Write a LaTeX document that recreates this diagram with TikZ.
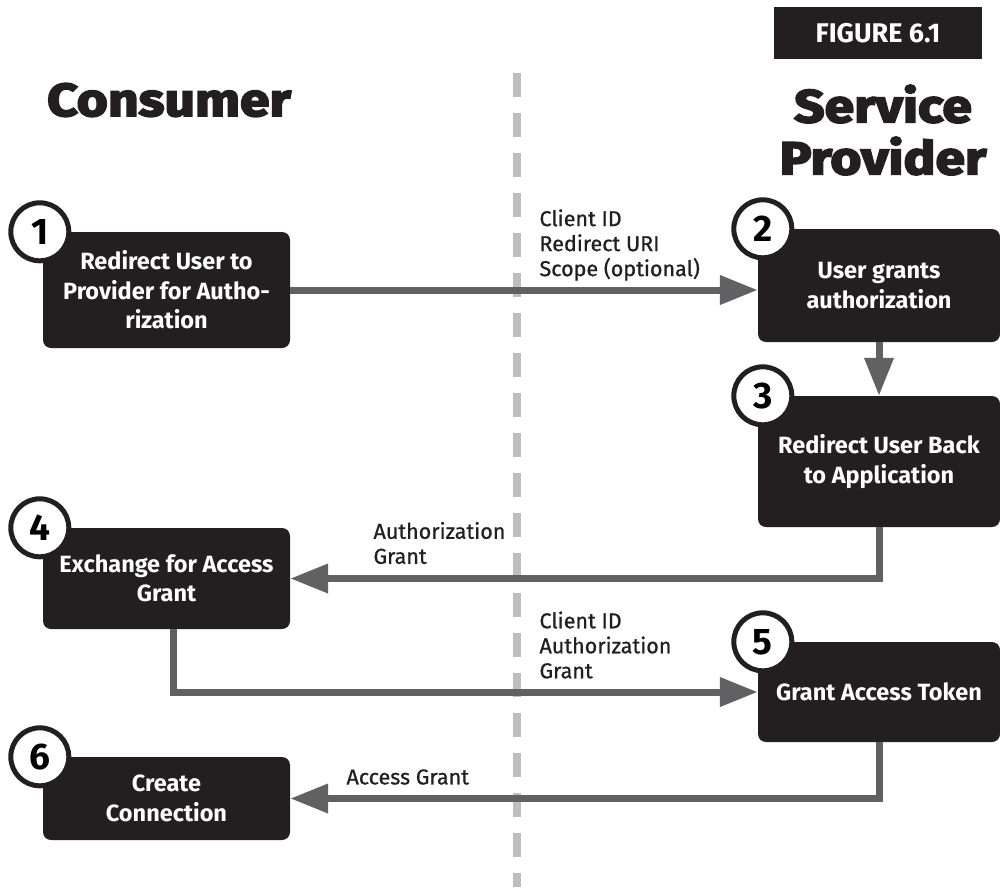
\documentclass[tikz,border=0pt]{standalone}
\usepackage{fontspec}
\setmainfont{Fira Sans}
\newfontfamily\headfont[BoldFeatures={FakeBold=4,FakeStretch=1.16}]{Fira Sans}
\newfontfamily\msgfont[FakeBold=0.8]{Fira Sans}
\usetikzlibrary{arrows.meta, positioning}
\definecolor{boxblack}{HTML}{231F20}
\definecolor{flowgray}{HTML}{616163}
\definecolor{linegray}{HTML}{BEBEBE}

\begin{document}
\begin{tikzpicture}[
    x=1pt, y=-1pt,
    arrow/.style = {draw=flowgray, line width=7pt, ->, >={Triangle[length=38pt,width=28pt]}},
    stage/.style = {rectangle, rounded corners=8pt, fill=boxblack, text=white, align=center, inner sep=0pt,
                    font=\fontsize{23.5}{29.5}\selectfont\bfseries},
    stagenum/.style = {circle, draw=boxblack, line width=5pt, fill=white, minimum size=58pt, inner sep=0pt,
                       font=\fontsize{37}{37}\selectfont\bfseries},
    msg/.style = {anchor=west, align=left, text=boxblack, font=\msgfont\fontsize{21.5}{25}\selectfont},
    side/.style = {text=boxblack, align=center, font=\headfont\bfseries\fontsize{46}{52}\selectfont}
  ]
  \useasboundingbox (0,0) rectangle (1000,887);

  % headings
  \node (figlabel) [fill=boxblack, text=white, minimum width=208pt, minimum height=52pt,
                    font=\fontsize{27}{27}\selectfont\bfseries] at (878, 33) {FIGURE 6.1};
  \node (consumer) [side] at (169, 100) {Consumer};
  \node (provider) [side] at (883, 130) {Service\\Provider};

  % divider
  \draw[linegray, line width=8pt, dash pattern=on 24pt off 16pt] (517, 73) -- (517, 887);

  % steps
  \node (b1) [stage, minimum width=247pt, minimum height=116pt] at (166.5, 290) {Redirect User to\\Provider for Autho-\\rization};
  \node (b2) [stage, minimum width=242pt, minimum height=113pt] at (879, 285.5) {User grants\\authorization};
  \node (b3) [stage, minimum width=242pt, minimum height=131pt] at (879, 461.5) {Redirect User Back\\to Application};
  \node (b4) [stage, minimum width=247pt, minimum height=101pt] at (166.5, 578.5) {Exchange for Access\\Grant};
  \node (b5) [stage, minimum width=242pt, minimum height=100pt] at (879, 692) {Grant Access Token};
  \node (b6) [stage, minimum width=247pt, minimum height=83pt] at (166.5, 798.5) {Create\\Connection};

  \node (n1) [stagenum] at ([xshift=-3pt]b1.north west) {1};
  \node (n2) [stagenum] at ([xshift=5pt]b2.north west) {2};
  \node (n3) [stagenum] at ([xshift=5pt]b3.north west) {3};
  \node (n4) [stagenum] at ([xshift=-3pt]b4.north west) {4};
  \node (n5) [stagenum] at ([xshift=5pt]b5.north west) {5};
  \node (n6) [stagenum] at ([xshift=-3pt]b6.north west) {6};

  % messages
  \node (msgauth) [msg] at (536, 245) {Client ID\\Redirect URI\\Scope (optional)};
  \node (msggrant) [msg] at (370, 543) {Authorization\\Grant};
  \node (msgtoken) [msg] at (536, 645) {Client ID\\Authorization\\Grant};
  \node (msgaccess) [msg] at (343, 777) {Access Grant};

  \begin{scope}[every path/.style=arrow]
    \path (b1.east) -- (b1.east -| b2.west);
    \path (b2) -- (b3);
    \path (b3.south) |- (b4.east);
    \path ([xshift=7pt]b4.south) |- (b5.west);
    \path (b5.south) |- (b6.east);
  \end{scope}
\end{tikzpicture}
\end{document}
